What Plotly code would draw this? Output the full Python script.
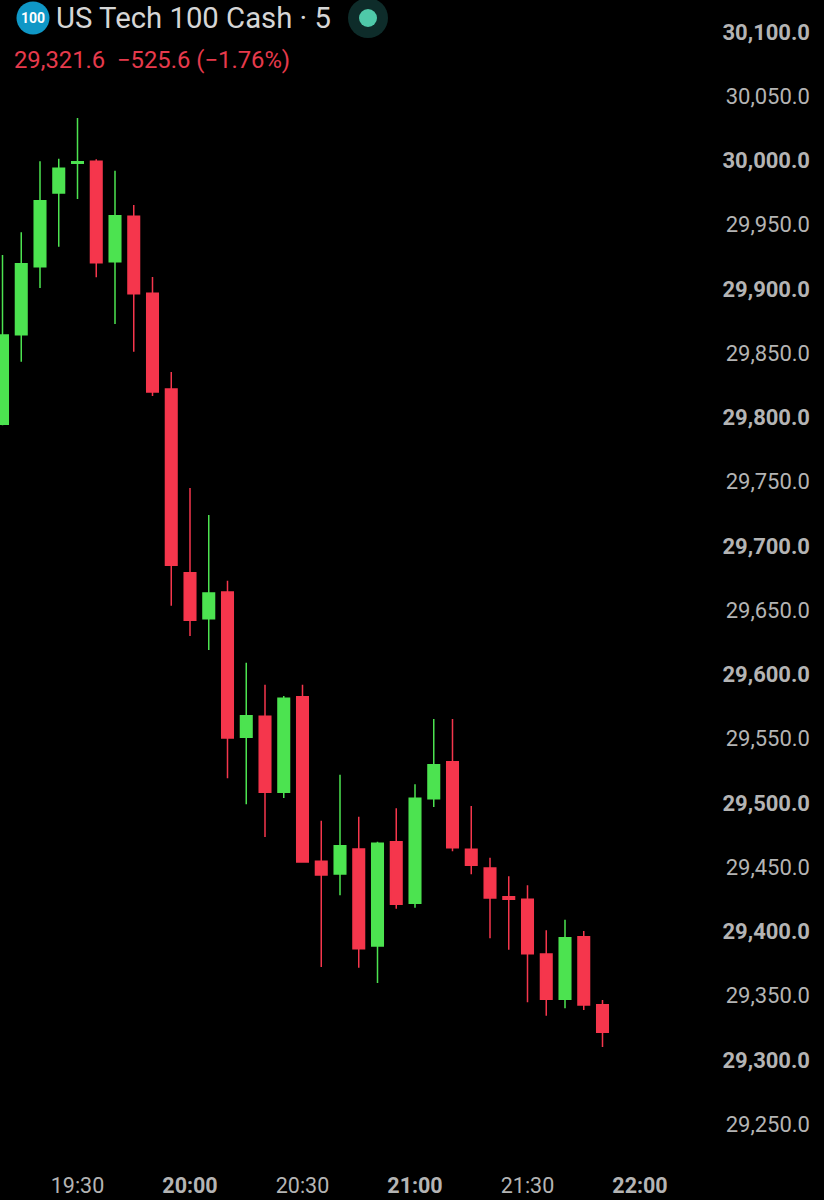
import plotly.graph_objects as go

times = ["19:10","19:15","19:20","19:25","19:30","19:35","19:40","19:45","19:50","19:55",
         "20:00","20:05","20:10","20:15","20:20","20:25","20:30","20:35","20:40","20:45",
         "20:50","20:55","21:00","21:05","21:10","21:15","21:20","21:25","21:30","21:35",
         "21:40","21:45","21:50"]
opens = [29794.7,29864.4,29917.4,29974.7,29997.8,29999.4,29921.2,29956.6,29896.7,29822.2,
         29679.2,29643.4,29664.2,29551.1,29567.5,29508.3,29582.7,29454.6,29444.8,29464.2,
         29388.7,29469.9,29422.0,29503.4,29532.1,29464.0,29449.4,29427.1,29425.1,29382.5,
         29347.2,29396.0,29343.0]
highs = [29926.5,29944.1,29999.4,30001.4,30033.1,30000.9,29992.1,29965.4,29909.3,29835.4,
         29745.1,29724.1,29673.0,29609.2,29592.1,29583.3,29592.1,29486.2,29522.0,29489.3,
         29469.9,29495.9,29514.6,29565.4,29565.4,29497.7,29457.4,29443.0,29436.0,29401.0,
         29409.2,29400.4,29346.7]
lows = [29794.0,29843.4,29900.8,29932.9,29970.0,29909.1,29872.8,29851.2,29816.7,29653.5,
        29630.0,29619.1,29519.2,29499.0,29473.5,29503.9,29454.1,29372.4,29428.2,29371.8,
        29359.9,29417.7,29418.5,29496.9,29462.4,29444.5,29394.7,29385.8,29344.9,29334.5,
        29340.2,29338.9,29310.1]
closes = [29864.2,29919.7,29968.7,29993.9,29999.1,29920.5,29957.0,29896.3,29819.8,29685.0,
          29642.2,29663.4,29550.6,29567.9,29508.3,29581.5,29454.1,29444.0,29466.8,29386.6,
          29468.6,29421.2,29503.7,29529.8,29465.2,29451.5,29426.1,29425.1,29382.7,29347.2,
          29395.2,29342.8,29321.6]
price_ticks = [30100,30050,30000,29950,29900,29850,29800,29750,29700,29650,
               29600,29550,29500,29450,29400,29350,29300,29250]
time_ticks = ["19:30","20:00","20:30","21:00","21:30","22:00"]
title_text = "US Tech 100 Cash · 5"
quote_text = "29,321.6  −525.6 (−1.76%)"

DAY = "2024-12-18 "
W, H = 824, 1200
MR, MB = 11, 30
PW, PH = W - MR, H - MB
RED, GREEN = "#f5364c", "#4ce350"
TICK = "#b4b4b4"


def px(x):
    return x / PW


def py(y):
    return 1 - y / PH


def price_label(p):
    s = f"{p:,.1f}"
    return f"<b>{s}</b>" if p % 100 == 0 else s


def time_label(t):
    return f"<b>{t}</b>" if t.endswith(":00") else t


fig = go.Figure(go.Candlestick(
    x=[DAY + t for t in times], open=opens, high=highs, low=lows, close=closes,
    increasing=dict(line=dict(color=GREEN, width=1.5), fillcolor=GREEN),
    decreasing=dict(line=dict(color=RED, width=1.5), fillcolor=RED),
    whiskerwidth=0, showlegend=False, hoverinfo="skip",
))

circle = lambda cx, cy, r, color: dict(
    type="circle", xref="paper", yref="paper",
    x0=px(cx - r), x1=px(cx + r), y0=py(cy + r), y1=py(cy - r),
    fillcolor=color, line=dict(width=0), layer="above")

fig.update_layout(
    width=W, height=H, margin=dict(l=0, r=MR, t=0, b=MB),
    paper_bgcolor="#000000", plot_bgcolor="#000000",
    font=dict(family="Roboto", size=22, color=TICK),
    boxgap=0.12,
    xaxis=dict(
        type="date", range=["2024-12-18 19:09:20", "2024-12-18 22:46:08"],
        rangeslider=dict(visible=False), showgrid=False, zeroline=False, showline=False,
        ticks="", tickvals=[DAY + t for t in time_ticks], tickfont=dict(color=TICK, size=21.5),
        ticktext=[time_label(t) for t in time_ticks], fixedrange=True,
    ),
    yaxis=dict(
        side="right", ticklabelposition="inside", range=[29214.4, 30124.9],
        showgrid=False, zeroline=False, showline=False, ticks="", tickfont=dict(color=TICK, size=22),
        tickvals=price_ticks, ticktext=[price_label(p) for p in price_ticks], fixedrange=True,
    ),
    shapes=[circle(33, 18, 16.5, "#0f97c6"), circle(368, 18, 20, "#0e2c2a"), circle(368, 18, 9, "#4fc9a9")],
    annotations=[
        dict(text="<b>100</b>", xref="paper", yref="paper", x=px(33), y=py(18), showarrow=False,
             font=dict(size=14, color="#ffffff"), xanchor="center", yanchor="middle"),
        dict(text=title_text, xref="paper", yref="paper", x=px(54), y=py(18), showarrow=False,
             font=dict(size=29.3, color="#d6d6d6"), xanchor="left", yanchor="middle"),
        dict(text=quote_text, xref="paper", yref="paper", x=px(12), y=py(60), showarrow=False,
             font=dict(size=23.8, color="#e63a4c"), xanchor="left", yanchor="middle"),
    ],
)
fig.write_html("out.html", config={"displayModeBar": False},
               post_script="document.body.style.margin='0';document.body.style.background='#000';")
